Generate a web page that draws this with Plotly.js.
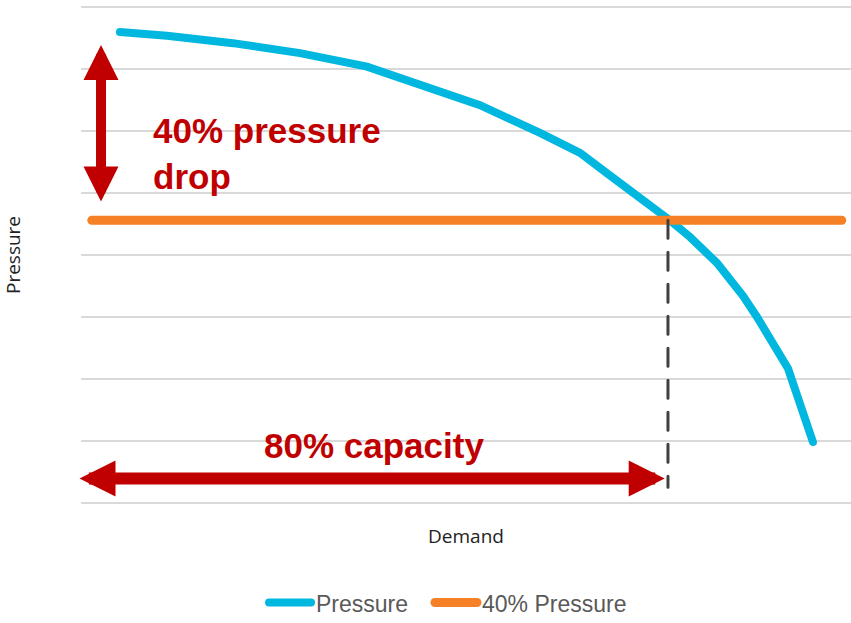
<!DOCTYPE html>
<html>
<head>
<meta charset="utf-8">
<script src="https://cdn.plot.ly/plotly-3.0.1.min.js"></script>
<style>
  html, body { margin: 0; padding: 0; background: #fff; }
  #chart { width: 851px; height: 623px; }
  .js-line { stroke-linecap: round; }
</style>
</head>
<body>
<div id="chart"></div>
<script>
// ---- data ----
const demand   = [5.06, 11.17, 19.74, 28.44, 37.14, 45.32, 51.82, 59.61, 64.81, 68.31, 72.60, 76.49, 79.09, 82.60, 85.97, 87.79, 91.82, 95.06];
const pressure = [7.60, 7.54, 7.42, 7.26, 7.04, 6.71, 6.42, 5.97, 5.65, 5.32, 4.94, 4.56, 4.29, 3.87, 3.34, 3.00, 2.17, 0.98];
const thresholdX = [1.4, 98.8];
const thresholdY = [4.56, 4.56];
const capacityX  = [76.23, 76.23];
const capacityY  = [4.56, 0.25];
const dropArrow  = {x: 2.6, top: 7.39, bottom: 4.84};
const capArrow   = {y: 0.39, left: -0.39, right: 75.8};
const seriesNames = ['Pressure', '40% Pressure'];

const red = '#C00000';

const traces = [
  {x: demand, y: pressure, name: seriesNames[0], mode: 'lines', legend: 'legend',
   line: {color: '#00B7E0', width: 8}},
  {x: thresholdX, y: thresholdY, name: seriesNames[1], mode: 'lines', legend: 'legend2',
   line: {color: '#F58025', width: 9}},
  {x: capacityX, y: capacityY, mode: 'lines', showlegend: false,
   line: {color: '#404040', width: 3, dash: '18px,14px'}}
];

const legendFont = {size: 23, color: '#595959', family: 'Liberation Sans, Arial, sans-serif'};

const layout = {
  width: 851, height: 623,
  margin: {l: 81, r: 0, t: 6, b: 119, autoexpand: false},
  paper_bgcolor: '#fff', plot_bgcolor: '#fff',
  font: {family: 'Liberation Sans, Arial, sans-serif'},
  xaxis: {range: [0, 100], showgrid: false, zeroline: false, showline: false,
          showticklabels: false, ticks: '',
          title: {text: 'Demand', standoff: 25,
                  font: {family: 'Open Sans, sans-serif', size: 19, color: '#222'}}},
  yaxis: {range: [-0.02, 8.02], dtick: 1, tick0: 0, showgrid: true, gridcolor: '#D9D9D9', gridwidth: 1.5,
          zeroline: false, showline: false, showticklabels: false, ticks: '',
          title: {text: 'Pressure', standoff: 58,
                  font: {family: 'Open Sans, sans-serif', size: 19, color: '#222'}}},
  showlegend: true,
  legend: {orientation: 'h', x: 0.2377, xanchor: 'left', y: -0.198, yanchor: 'middle',
           itemwidth: 42, font: legendFont},
  legend2: {orientation: 'h', x: 0.4532, xanchor: 'left', y: -0.198, yanchor: 'middle',
           itemwidth: 42, font: legendFont},
  annotations: [
    {x: dropArrow.x, y: dropArrow.top, ax: dropArrow.x, ay: dropArrow.bottom,
     xref: 'x', yref: 'y', axref: 'x', ayref: 'y', text: '', showarrow: true,
     arrowside: 'end+start', arrowhead: 2, startarrowhead: 2,
     arrowsize: 0.7, startarrowsize: 0.7, arrowwidth: 10, arrowcolor: red},
    {x: capArrow.right, y: capArrow.y, ax: capArrow.left, ay: capArrow.y,
     xref: 'x', yref: 'y', axref: 'x', ayref: 'y', text: '', showarrow: true,
     arrowside: 'end+start', arrowhead: 2, startarrowhead: 2,
     arrowsize: 0.6, startarrowsize: 0.6, arrowwidth: 12, arrowcolor: red},
    {x: 9.1, y: 5.64, xref: 'x', yref: 'y', xanchor: 'left', yanchor: 'middle',
     align: 'left', showarrow: false, text: '<b>40% pressure<br>drop</b>',
     font: {family: 'Liberation Sans, Arial, sans-serif', size: 35, color: red}},
    {x: 38.0, y: 0.92, xref: 'x', yref: 'y', xanchor: 'center', yanchor: 'middle',
     showarrow: false, text: '<b>80% capacity</b>',
     font: {family: 'Liberation Sans, Arial, sans-serif', size: 35, color: red}}
  ]
};

Plotly.newPlot('chart', traces, layout, {staticPlot: true, displayModeBar: false});
</script>
</body>
</html>
